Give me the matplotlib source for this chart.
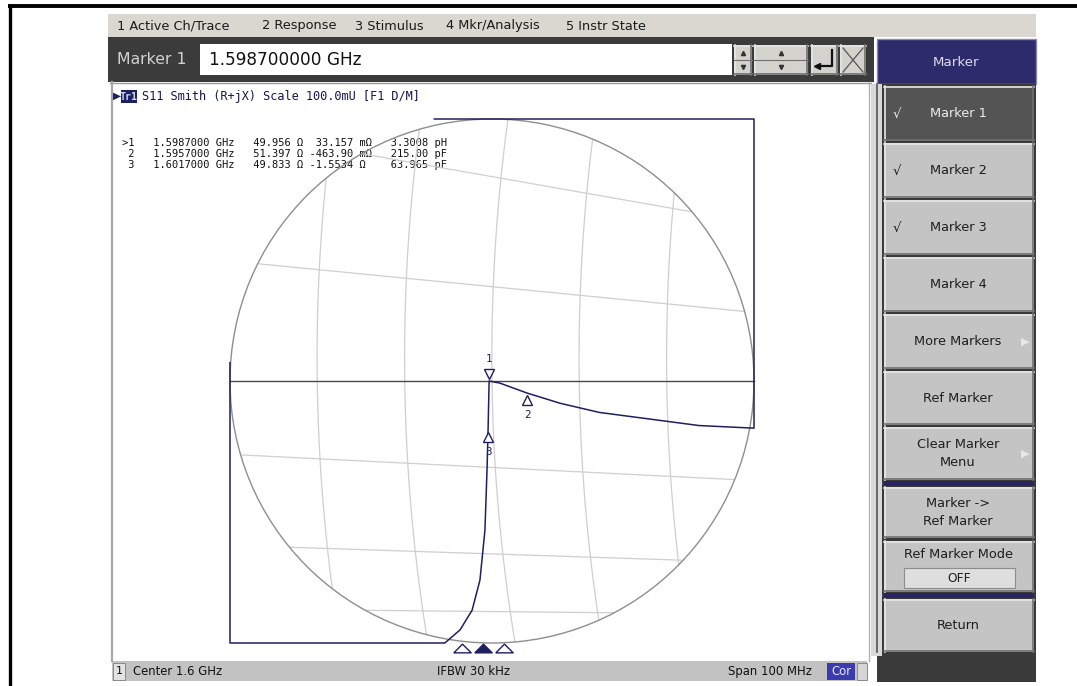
import numpy as np
import matplotlib
matplotlib.use('Agg')
import matplotlib.pyplot as plt
from matplotlib.patches import Rectangle, Circle
from matplotlib.transforms import offset_copy

W, H = 1077, 686

# ---------------- values ----------------
menu_items = ['1 Active Ch/Trace', '2 Response', '3 Stimulus', '4 Mkr/Analysis', '5 Instr State']
menu_x = [117, 262, 355, 446, 566]

active_label = 'Marker 1'
active_freq = '1.598700000 GHz'
trace_header = 'S11 Smith (R+jX) Scale 100.0mU [F1 D/M]'

marker_ids = [1, 2, 3]
marker_freq = [1.5987, 1.5957, 1.6017]          # GHz
marker_r = ['49.956', '51.397', '49.833']       # ohm
marker_xv = ['33.157', '-463.90', '-1.5534']
marker_xu = ['mΩ', 'mΩ', 'Ω']
marker_lc = ['3.3008 pH', '215.00 pF', '63.965 pF']
# marker positions on the chart (reflection coefficient, re / im)
marker_gr = [-0.011, 0.134, -0.015]
marker_gi = [0.0, -0.046, -0.187]

# S11 trace, clipped at the display box
trace_gr = [-0.22, 1.0, 1.0, 0.79, 0.60, 0.41, 0.26, 0.134, 0.03, -0.011,
            -0.015, -0.019, -0.027, -0.046, -0.076, -0.122, -0.18, -1.0, -1.0]
trace_gi = [1.0, 1.0, -0.18, -0.17, -0.145, -0.12, -0.085, -0.046, -0.008, 0.0,
            -0.187, -0.34, -0.57, -0.76, -0.875, -0.95, -1.0, -1.0, 0.07]

# grid lines (as they appear on the photographed screen)
vgrid_mid = [-0.667, -0.333, 0.0, 0.333, 0.667]
vgrid_top = [-0.606, -0.272, 0.061, 0.394, 0.728]
vgrid_bot = [-0.579, -0.245, 0.088, 0.421, 0.755]
hgrid_left = [0.956, 0.458, -0.28, -0.627, -0.87]
hgrid_right = [0.604, 0.262, -0.38, -0.693, -0.89]

center_ghz = 1.6
span_ghz = 0.1
ifbw = 'IFBW 30 kHz'

softkeys = ['Marker 1', 'Marker 2', 'Marker 3', 'Marker 4', 'More Markers', 'Ref Marker',
            'Clear Marker\nMenu', 'Marker ->\nRef Marker', 'Ref Marker Mode', 'Return']
softkey_top = [86, 143, 200, 257, 314, 371, 427, 487, 541, 599]
softkey_bot = [141, 198, 255, 312, 369, 425, 480, 538, 592, 652]
softkey_check = [True, True, True, False, False, False, False, False, False, False]
softkey_arrow = [False, False, False, False, True, False, True, False, False, False]

UI = 'DejaVu Sans'
MONO = 'DejaVu Sans Mono'
NAVY = '#1d2060'

fig = plt.figure(figsize=(W / 100, H / 100), dpi=100)
fig.patch.set_facecolor('white')

ui = fig.add_axes([0, 0, 1, 1])
ui.set_xlim(0, W)
ui.set_ylim(H, 0)
ui.axis('off')


def box(x0, y0, x1, y1, fc, ec='none', lw=0, z=1):
    ui.add_patch(Rectangle((x0, y0), x1 - x0, y1 - y0, fc=fc, ec=ec, lw=lw, zorder=z))


def button(x0, y0, x1, y1, fc='#c6c6c6', z=2):
    box(x0, y0, x1, y1, fc, z=z)
    ui.plot([x0, x1], [y0 + 1, y0 + 1], color='#e6e6e6', lw=1.2, zorder=z + 0.1)
    ui.plot([x0 + 1, x0 + 1], [y0, y1], color='#e6e6e6', lw=1.2, zorder=z + 0.1)
    ui.plot([x0, x1], [y1 - 1, y1 - 1], color='#707070', lw=1.2, zorder=z + 0.1)
    ui.plot([x1 - 1, x1 - 1], [y0, y1], color='#707070', lw=1.2, zorder=z + 0.1)


# outer frame of the page
ui.plot([8, W], [5.5, 5.5], color='black', lw=2.8, solid_capstyle='butt')
ui.plot([9.5, 9.5], [4, H], color='black', lw=2.4, solid_capstyle='butt')

# menu bar
box(108, 14, 1036, 37, '#d9d7cf')
for s, x in zip(menu_items, menu_x):
    ui.text(x, 26, s, fontsize=9.3, family=UI, color='#1a1a1a', va='center')

# entry bar
box(108, 37, 874, 82, '#3b3b3b')
ui.text(117, 59, active_label, fontsize=11.3, family=UI, color='#d2d2d2', va='center')
box(200, 44, 732, 75, 'white')
ui.text(209, 60, active_freq, fontsize=12.2, family=UI, color='#111111', va='center')
button(734, 45, 752, 75, fc='#d4d2cc')
button(754, 45, 808, 75, fc='#d4d2cc')
for x0, x1 in [(734, 752), (754, 808)]:
    ui.plot([x0, x1], [60, 60], color='#707070', lw=0.8, zorder=3)
    xm = (x0 + x1) / 2
    ui.plot([xm], [53], marker='^', ms=3, color='#333333', zorder=4)
    ui.plot([xm], [67], marker='v', ms=3, color='#333333', zorder=4)
button(811, 45, 838, 75, fc='#d4d2cc')
ui.plot([832, 832, 817], [50, 66, 66], color='#111111', lw=1.6, zorder=4)
ui.plot([817], [66], marker='<', ms=5, color='#111111', zorder=4)
button(840, 45, 866, 75, fc='#d4d2cc')
ui.plot([843, 863], [48, 72], color='#555555', lw=0.9, zorder=4)
ui.plot([843, 863], [72, 48], color='#555555', lw=0.9, zorder=4)

# right hand softkey panel
box(877, 39, 1036, 84, '#2d2b6c', ec='#8a8ab0', lw=1.0)
ui.text(956, 62, 'Marker', fontsize=9.6, family=UI, color='#dcdcec', ha='center', va='center')
box(877, 84, 1036, 682, '#3a3a3a')
box(871, 84, 882, 656, '#d8d8d8')
ui.plot([877, 877], [84, 652], color='#555555', lw=1.2)
box(884, 481, 1034, 486, '#262660', z=3)
box(884, 593, 1034, 598, '#262660', z=3)
for i, s in enumerate(softkeys):
    y0, y1 = softkey_top[i], softkey_bot[i]
    dark = (i == 0)
    button(884, y0, 1034, y1, fc='#545454' if dark else '#c4c4c4')
    col = '#ececec' if dark else '#1e1e1e'
    ym = (y0 + y1) / 2
    if s == 'Ref Marker Mode':
        ui.text(958, y0 + 13, s, fontsize=9.3, family=UI, color=col, ha='center', va='center', zorder=5)
        box(904, 568, 1015, 588, '#dedede', ec='#8c8c8c', lw=0.8, z=4)
        ui.text(959, 578.5, 'OFF', fontsize=8.8, family=UI, color='#1e1e1e', ha='center', va='center', zorder=5)
    else:
        ui.text(958, ym, s, fontsize=9.3, family=UI, color=col, ha='center', va='center',
                linespacing=1.5, zorder=5)
    if softkey_check[i]:
        ui.text(893, ym + 1, '√', fontsize=9.5, family=UI, color=col, va='center', zorder=5)
    if softkey_arrow[i]:
        ui.text(1025, ym, '▶', fontsize=8, family=UI, color='#e8e8e8', ha='center', va='center', zorder=5)

# plot area
box(110, 82, 871, 661, 'white', z=0.5)
ui.plot([112, 112], [82, 661], color='#a8a8a8', lw=1.6)
ui.plot([110, 871], [83, 83], color='#9a9a9a', lw=1.0)
ui.plot([869, 869], [82, 661], color='#b0b0b0', lw=1.0)

# trace header
ui.text(117, 96, '▶', fontsize=7.5, family=UI, color=NAVY, ha='center', va='center')
box(121, 90, 137, 103, NAVY, z=2)
ui.text(129, 96.5, 'Tr1', fontsize=7.2, family=MONO, color='#d6d6f0', ha='center', va='center',
        weight='bold', zorder=3)
ui.text(142, 96.5, trace_header, fontsize=8.6, family=MONO, color='#15154a', va='center')

# marker readout
for k, m in enumerate(marker_ids):
    row = (('>' if k == 0 else ' ') + str(m) + '   ' + '%.7f GHz' % marker_freq[k] + '   '
           + marker_r[k] + ' Ω ' + '%7s' % marker_xv[k] + ' ' + '%-2s' % marker_xu[k]
           + '   ' + marker_lc[k])
    ui.text(122, 143 + 10.8 * k, row, fontsize=7.5, family=MONO, color='#111111', va='center', zorder=6)

# status bar
box(112, 661, 867, 681, '#c2c2c2')
box(113, 663, 125, 680, '#e2e2e2', ec='#8a8a8a', lw=0.7, z=2)
ui.text(119, 671.5, '1', fontsize=8, family=UI, color='#111111', ha='center', va='center', zorder=3)
ui.text(133, 671.5, 'Center %.1f GHz' % center_ghz, fontsize=8.4, family=UI, color='#111111', va='center')
ui.text(437, 671.5, ifbw, fontsize=8.4, family=UI, color='#111111', va='center')
ui.text(728, 671.5, 'Span %d MHz' % round(span_ghz * 1000), fontsize=8.4, family=UI, color='#111111',
        va='center')
box(827, 663, 855, 680, '#3b3bb0', z=2)
ui.text(841, 671.5, 'Cor', fontsize=8.4, family=UI, color='#e8e8ff', ha='center', va='center', zorder=3)
box(857, 663, 867, 680, '#d6d6d6', ec='#8a8a8a', lw=0.7, z=2)

# ---------------- Smith chart ----------------
cx, cy, R, mg = 492, 381, 262, 1.2
sm = fig.add_axes([(cx - mg * R) / W, (H - cy - mg * R) / H, 2 * mg * R / W, 2 * mg * R / H])
sm.set_xlim(-mg, mg)
sm.set_ylim(-mg, mg)
sm.axis('off')
sm.patch.set_alpha(0)

rim = Circle((0, 0), 1.0, fill=False, ec='#8e8e8e', lw=1.0, zorder=2)
sm.add_patch(rim)
t = np.linspace(-1, 1, 120)
for a, b, c in zip(vgrid_top, vgrid_mid, vgrid_bot):
    p = np.polyfit([1, 0, -1], [a, b, c], 2)
    ln, = sm.plot(np.polyval(p, t), t, color='#cfcfcf', lw=0.9, zorder=1)
    ln.set_clip_path(rim)
for a, b in zip(hgrid_left, hgrid_right):
    ln, = sm.plot([-1, 1], [a, b], color='#cfcfcf', lw=0.9, zorder=1)
    ln.set_clip_path(rim)
sm.plot([-1, 1], [0, 0], color='#4a4a4a', lw=1.0, zorder=2)

sm.plot(trace_gr, trace_gi, color=NAVY, lw=1.1, zorder=4, clip_on=False)

up = offset_copy(sm.transData, fig=fig, x=0, y=7, units='dots')
dn = offset_copy(sm.transData, fig=fig, x=0, y=-7, units='dots')
for k, m in enumerate(marker_ids):
    above = (k == 0)
    sm.plot(marker_gr[k], marker_gi[k], marker='v' if above else '^', ms=7.5, mfc='white',
            mec=NAVY, mew=1.0, transform=up if above else dn, zorder=5, clip_on=False)
    sm.annotate(str(m), (marker_gr[k], marker_gi[k]), xytext=(0, 16 if above else -16),
                textcoords='offset points', ha='center', va='center', fontsize=7.8,
                family=MONO, color=NAVY, zorder=5)

# stimulus axis markers under the chart
st = fig.add_axes([142 / W, (H - 656) / H, 700 / W, 16 / H])
st.set_xlim(center_ghz - span_ghz / 2, center_ghz + span_ghz / 2)
st.set_ylim(0, 1)
st.axis('off')
st.patch.set_alpha(0)
flat_tri = [(-1, -0.5), (1, -0.5), (0, 0.5), (-1, -0.5)]
for k, f in enumerate(marker_freq):
    st.plot(f, 0.5, marker=flat_tri, ms=12.5, mec=NAVY, mew=1.0,
            mfc=NAVY if k == 0 else 'white', clip_on=False)

fig.savefig('out.png', dpi=100)
